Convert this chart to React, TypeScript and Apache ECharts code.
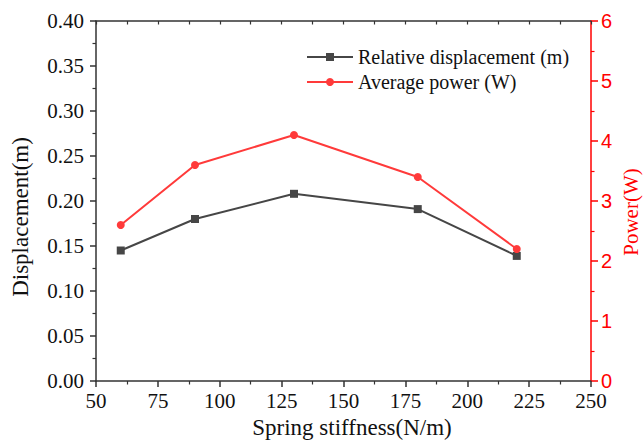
import React, { useEffect, useRef } from "react";
import * as echarts from "echarts";

const stiffness = [60, 90, 130, 180, 220];
const displacement = [0.145, 0.18, 0.208, 0.191, 0.139];
const power = [2.6, 3.6, 4.1, 3.4, 2.2];

const seriesNames = ["Relative displacement (m)", "Average power (W)"];
const xTitle = "Spring stiffness(N/m)";
const leftTitle = "Displacement(m)";
const rightTitle = "Power(W)";

const SERIF = "Liberation Serif";
const SANS = "Liberation Sans";
const AXIS = "#333333";
const RED = "#ff0000";
const LINE_RED = "#ff3a3a";
const LINE_DARK = "#464646";

export default function App() {
  const ref = useRef<HTMLDivElement>(null);
  useEffect(() => {
    if (!ref.current) return;
    const chart = echarts.init(ref.current, null, { renderer: "svg" });
    const xCommon = {
      type: "value",
      min: 50,
      max: 250,
      interval: 25,
      splitLine: { show: false },
      axisLine: { show: true, onZero: false, lineStyle: { color: AXIS, width: 1.5 } },
    };
    chart.setOption({
      animation: false,
      backgroundColor: "#ffffff",
      textStyle: { fontFamily: SERIF },
      grid: { left: 96, right: 53, top: 21, bottom: 61, containLabel: false },
      legend: {
        orient: "vertical",
        left: 301,
        top: 42,
        itemWidth: 46,
        itemHeight: 10,
        itemGap: 5,
        data: seriesNames,
        textStyle: { fontFamily: SERIF, fontSize: 20, color: "#111", lineHeight: 20 },
      },
      xAxis: [
        {
          ...xCommon,
          position: "bottom",
          axisTick: { show: true, inside: false, length: 6, lineStyle: { color: AXIS, width: 1.5 } },
          minorTick: { show: true, splitNumber: 2, length: 3.5, lineStyle: { color: AXIS, width: 1.2 } },
          axisLabel: {
            margin: 9,
            formatter: (v: number) => `{s|${v}}`,
            rich: { s: { fontFamily: SERIF, fontSize: 21, color: "#111" } },
          },
        },
        {
          ...xCommon,
          position: "top",
          axisTick: { show: true, inside: true, length: 3.5, lineStyle: { color: AXIS, width: 1.2 } },
          minorTick: { show: true, splitNumber: 2, length: 3.5, lineStyle: { color: AXIS, width: 1.2 } },
          axisLabel: { show: false },
        },
      ],
      yAxis: [
        {
          type: "value",
          position: "left",
          min: 0,
          max: 0.4,
          interval: 0.05,
          splitLine: { show: false },
          axisLine: { show: true, onZero: false, lineStyle: { color: AXIS, width: 1.5 } },
          axisTick: { show: true, inside: false, length: 6, lineStyle: { color: AXIS, width: 1.5 } },
          minorTick: { show: true, splitNumber: 2, length: 3.5, lineStyle: { color: AXIS, width: 1.2 } },
          axisLabel: {
            margin: 12,
            formatter: (v: number) => `{s|${v.toFixed(2)}}`,
            rich: { s: { fontFamily: SERIF, fontSize: 21, color: "#111" } },
          },
        },
        {
          type: "value",
          position: "right",
          min: 0,
          max: 6,
          interval: 1,
          splitLine: { show: false },
          axisLine: { show: true, onZero: false, lineStyle: { color: RED, width: 1.5 } },
          axisTick: { show: true, inside: false, length: 7, lineStyle: { color: RED, width: 1.5 } },
          minorTick: { show: true, splitNumber: 2, length: 3.5, lineStyle: { color: RED, width: 1.2 } },
          axisLabel: { fontFamily: SANS, fontSize: 20, color: RED, margin: 10 },
        },
      ],
      series: [
        {
          name: seriesNames[0],
          type: "line",
          xAxisIndex: 0,
          yAxisIndex: 0,
          data: stiffness.map((x, i) => [x, displacement[i]]),
          symbol: "rect",
          symbolSize: 8,
          itemStyle: { color: LINE_DARK },
          lineStyle: { color: LINE_DARK, width: 2 },
        },
        {
          name: seriesNames[1],
          type: "line",
          xAxisIndex: 0,
          yAxisIndex: 1,
          data: stiffness.map((x, i) => [x, power[i]]),
          symbol: "circle",
          symbolSize: 8,
          itemStyle: { color: LINE_RED },
          lineStyle: { color: LINE_RED, width: 2 },
        },
      ],
      graphic: [
        {
          type: "text",
          x: 352,
          y: 427,
          style: {
            text: xTitle,
            font: `23px ${SERIF}`,
            fill: "#111",
            align: "center",
            verticalAlign: "middle",
          },
        },
        {
          type: "text",
          x: 20,
          y: 217,
          rotation: Math.PI / 2,
          style: {
            text: leftTitle,
            font: `23px ${SERIF}`,
            fill: "#111",
            align: "center",
            verticalAlign: "middle",
          },
        },
        {
          type: "text",
          x: 631,
          y: 212,
          rotation: Math.PI / 2,
          style: {
            text: rightTitle,
            font: `21px ${SERIF}`,
            fill: RED,
            align: "center",
            verticalAlign: "middle",
          },
        },
      ],
    });
    return () => chart.dispose();
  }, []);
  return (
    <div
      ref={ref}
      style={{ position: "fixed", left: 0, top: 0, width: 644, height: 442 }}
    />
  );
}
